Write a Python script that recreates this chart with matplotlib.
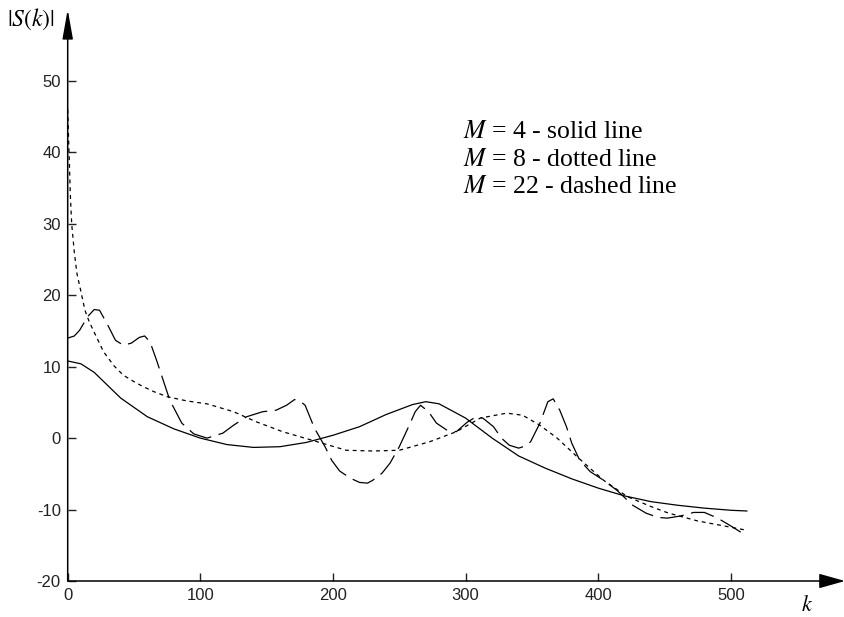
import numpy as np
import matplotlib
matplotlib.use("Agg")
import matplotlib.pyplot as plt

# values
k_m4 = [0, 10, 20, 30, 40, 60, 80, 100, 120, 140, 160, 180, 200, 220, 240, 260, 270,
        280, 300, 320, 340, 360, 380, 400, 420, 440, 460, 480, 500, 512]
s_m4 = [10.8, 10.4, 9.2, 7.4, 5.6, 3.0, 1.3, 0.0, -0.9, -1.3, -1.2, -0.6, 0.4, 1.6,
        3.3, 4.7, 5.1, 4.8, 2.8, 0.0, -2.5, -4.2, -5.7, -7.0, -8.1, -8.9, -9.4,
        -9.8, -10.1, -10.2]

k_m8 = [0, 1, 2, 3, 5, 7, 10, 13, 16, 20, 27, 35, 42, 50, 57, 65, 75, 90, 105,
        125, 142, 162, 188, 210, 230, 250, 273, 293, 311, 331, 343, 356, 369,
        384, 404, 422, 440, 453, 475, 495, 512]
s_m8 = [46, 40, 34, 30, 26, 23, 20.5, 17.9, 16.4, 14.8, 12.1, 10.1, 8.8, 7.9, 7.2,
        6.5, 5.8, 5.2, 4.8, 3.7, 2.3, 0.9, -0.5, -1.7, -1.8, -1.7, -0.5, 0.9, 2.8,
        3.5, 3.2, 1.8, 0.0, -2.6, -5.9, -8.2, -9.6, -10.5, -11.6, -12.3, -12.9]

k_m22 = [0, 5, 9, 15, 20, 24, 30, 36, 42, 48, 54, 58, 62, 67, 72, 77, 86, 95,
         105, 117, 125, 135, 147, 157, 165, 171, 175, 179, 186, 194, 199, 205,
         213, 220, 226, 230, 237, 243, 250, 257, 262, 266, 272, 278, 286, 293,
         301, 308, 313, 321, 327, 333, 340, 345, 349, 356, 362, 366, 371, 376,
         380, 386, 394, 404, 414, 426, 436, 445, 452, 462, 472, 480, 490, 500, 512]
s_m22 = [14.0, 14.3, 15.1, 17.0, 18.0, 17.9, 15.9, 13.7, 13.0, 13.3, 14.1, 14.3,
         13.5, 10.9, 8.1, 5.3, 2.1, 0.6, 0.0, 0.7, 1.8, 3.0, 3.7, 3.9, 4.6, 5.4,
         5.2, 4.6, 1.4, -1.2, -3.1, -4.6, -5.6, -6.2, -6.3, -5.9, -4.9, -3.5, -1.2,
         1.6, 3.7, 4.6, 3.7, 2.1, 1.1, 0.9, 2.2, 3.0, 2.8, 1.6, 0.0, -1.0, -1.4,
         -1.1, -0.5, 2.1, 5.1, 5.5, 3.9, 1.6, -0.7, -3.1, -4.7, -5.9, -7.3, -9.4,
         -10.5, -11.1, -11.2, -10.9, -10.4, -10.4, -11.2, -12.3, -13.7]

legend_lines = ["$M$ = 4 - solid line", "$M$ = 8 - dotted line", "$M$ = 22 - dashed line"]

plt.rcParams['mathtext.fontset'] = 'stix'
plt.rcParams['lines.scale_dashes'] = False
plt.rcParams['axes.unicode_minus'] = False

fig = plt.figure(figsize=(8.45, 6.17), dpi=100)
ax = fig.add_axes([67.7 / 845, 36 / 617, (845 - 67.7) / 845, (581 - 9.5) / 617])

ax.plot(k_m4, s_m4, color='k', lw=0.9)
ax.plot(k_m8, s_m8, color='k', lw=0.9, dashes=(2.8, 2.8))
ax.plot(k_m22, s_m22, color='k', lw=0.9, dashes=(17, 5.5))

ax.set_xlim(0, 586)
ax.set_ylim(-20, 60)
ax.set_xticks(range(0, 501, 100))
ax.set_yticks(range(-20, 51, 10))
for s in ax.spines.values():
    s.set_visible(False)
ax.tick_params(direction='in', length=5.5, width=1, color='#222', pad=5,
               labelsize=12, labelcolor='#222')
for lab in ax.get_xticklabels() + ax.get_yticklabels():
    lab.set_family('Liberation Sans')

# axis lines with arrow heads
ax.annotate('', xy=(586, -20), xytext=(0, -20), annotation_clip=False,
            arrowprops=dict(arrowstyle='-|>,head_length=1.6,head_width=0.45',
                            mutation_scale=10, lw=1.1, color='k',
                            shrinkA=0, shrinkB=0))
ax.annotate('', xy=(0, 60), xytext=(0, -20), annotation_clip=False,
            arrowprops=dict(arrowstyle='-|>,head_length=1.8,head_width=0.32',
                            mutation_scale=10, lw=1.1, color='k',
                            shrinkA=0, shrinkB=0))

fig.text(7 / 845, 1 - 19 / 617, r'$|S(k)|$', fontsize=17, ha='left', va='center')
fig.text(807 / 845, 1 - 605 / 617, r'$k$', fontsize=16, ha='center', va='center')

for i, txt in enumerate(legend_lines):
    fig.text(463 / 845, 1 - (138 + 27.5 * i) / 617, txt, fontsize=18.5,
             family='Liberation Serif', ha='left', va='baseline')

fig.savefig('out.png', dpi=100)
